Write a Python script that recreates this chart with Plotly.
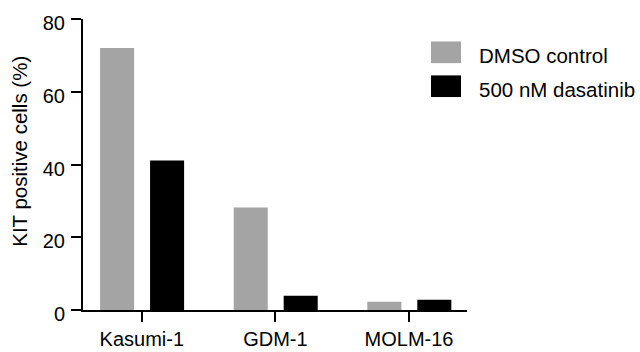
import plotly.graph_objects as go

categories = ["Kasumi-1", "GDM-1", "MOLM-16"]
dmso_control = [72.0, 28.2, 2.3]
dasatinib_500nM = [41.1, 3.9, 2.8]
series_names = ["DMSO control", "500 nM dasatinib"]
series_colors = ["#a4a4a4", "#000000"]
y_ticks = [0, 20, 40, 60, 80]
y_title = "KIT positive cells (%)"

FONT = "Liberation Sans, Arial, Helvetica, sans-serif"
W, H = 640, 352
L, R, T, B = 83, 467, 18.5, 310  # plot area in pixels

fig = go.Figure()
bar_w = 0.2547
offsets = [-0.312, 0.062]
for name, vals, col, off in zip(series_names, [dmso_control, dasatinib_500nM], series_colors, offsets):
    fig.add_trace(go.Bar(x=categories, y=vals, name=name, marker=dict(color=col, line=dict(width=0)),
                         width=bar_w, offset=off, showlegend=False, hoverinfo="skip"))

def px_x(p):
    return (p - L) / (R - L)

def px_y(p):
    return (B - p) / (B - T)

# manual legend
sw = [(41, 62.7), (75, 96.7)]
txt_y = [55.5, 89.5]
for (y0, y1), col, name, ty in zip(sw, series_colors, series_names, txt_y):
    fig.add_shape(type="rect", xref="paper", yref="paper", x0=px_x(431), x1=px_x(461),
                  y0=px_y(y1), y1=px_y(y0), fillcolor=col, line=dict(width=0))
    fig.add_annotation(xref="paper", yref="paper", x=px_x(477), y=px_y(ty), text=name,
                       showarrow=False, xanchor="left", yanchor="middle",
                       font=dict(family=FONT, size=20.5, color="#000"))

# y-axis title
fig.add_annotation(xref="paper", yref="paper", x=px_x(20), y=px_y(151.5), text=y_title,
                   showarrow=False, xanchor="center", yanchor="middle", textangle=-90,
                   font=dict(family=FONT, size=20.5, color="#000"))

fig.update_layout(
    width=W, height=H,
    margin=dict(l=L, r=W - R, t=T, b=H - B, pad=0),
    paper_bgcolor="white", plot_bgcolor="white",
    barmode="overlay",
    font=dict(family=FONT, size=20, color="#000"),
    xaxis=dict(type="category", range=[-0.44, 2.434], showline=True, linecolor="#000", linewidth=2,
               ticks="outside", ticklen=10, tickwidth=2, tickcolor="#000", showgrid=False,
               zeroline=False, automargin=False, tickfont=dict(family=FONT, size=20, color="#000")),
    yaxis=dict(range=[0, 80], tickvals=y_ticks, showline=True, linecolor="#000", linewidth=2,
               ticks="outside", ticklen=10, tickwidth=2, tickcolor="#000", showgrid=False,
               zeroline=False, automargin=False, ticklabelshift=4, ticklabelstandoff=2,
               tickfont=dict(family=FONT, size=20, color="#000")),
)

fig.write_html("out.html", config={"displayModeBar": False},
               post_script="document.body.style.margin='0';document.body.style.padding='0';")
